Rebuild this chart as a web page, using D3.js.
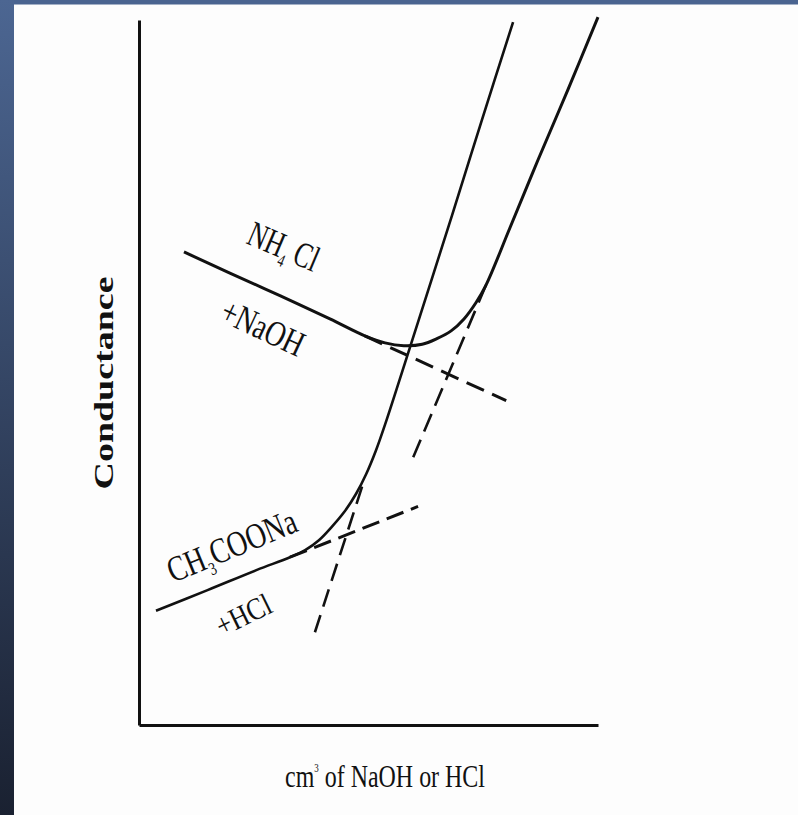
<!DOCTYPE html>
<html>
<head>
<meta charset="utf-8">
<script src="https://cdn.jsdelivr.net/npm/d3@7"></script>
<style>
    body { margin: 0; background: #fdfdfd; }
    svg { display: block; }
    .lbl { font-family: "Liberation Serif", "DejaVu Serif", serif; fill: #111; }
</style>
</head>
<body>
<svg id="chart" width="798" height="815"></svg>
<script>
// volume added (arbitrary units 0..10) vs conductance (arbitrary units 0..10)
const nh4cl_vol = [0.98, 1.98, 3.07, 4.16, 4.92, 5.36, 5.77, 6.17, 6.49, 6.80, 7.08, 7.34, 7.56, 8.08, 8.69, 9.35, 10.0];
const nh4cl_cond = [6.71, 6.41, 6.09, 5.76, 5.52, 5.42, 5.38, 5.40, 5.48, 5.59, 5.76, 5.99, 6.24, 7.05, 8.01, 9.02, 10.04];

const acetate_vol = [0.37, 1.48, 2.57, 3.29, 3.62, 3.92, 4.20, 4.47, 4.73, 4.95, 5.16, 5.36, 5.90, 6.82, 7.47, 8.15];
const acetate_cond = [1.62, 1.91, 2.20, 2.38, 2.48, 2.62, 2.81, 3.02, 3.28, 3.56, 3.89, 4.26, 5.35, 7.23, 8.58, 9.97];

// extrapolated straight branches (dashed), [start, end]
const nh4cl_flat_vol = [4.92, 8.00];
const nh4cl_flat_cond = [5.52, 4.60];
const nh4cl_steep_vol = [7.56, 5.97];
const nh4cl_steep_cond = [6.24, 3.79];
const acetate_flat_vol = [3.29, 6.08];
const acetate_flat_cond = [2.38, 3.10];
const acetate_steep_vol = [4.86, 3.79];
const acetate_steep_cond = [3.38, 1.23];

const x_label = 'cm';
const y_label = 'Conductance';

let svg = d3.select('#chart');

// slide background
let grad = svg.append('defs').append('linearGradient')
    .attr('id', 'side-grad').attr('x1', 0).attr('y1', 0).attr('x2', 0).attr('y2', 1);
grad.append('stop').attr('offset', '0%').attr('stop-color', '#4c6692');
grad.append('stop').attr('offset', '100%').attr('stop-color', '#1a2131');
svg.append('rect').attr('x', 0).attr('y', 0).attr('width', 798).attr('height', 815).attr('fill', '#fdfdfd');
svg.append('rect').attr('x', 0).attr('y', 0).attr('width', 798).attr('height', 4.5).attr('fill', '#4a6490');
svg.append('rect').attr('x', 0).attr('y', 0).attr('width', 14).attr('height', 815).attr('fill', 'url(#side-grad)');

let x = d3.scaleLinear().domain([0, 10]).range([139, 598]);
let y = d3.scaleLinear().domain([0, 10]).range([725, 20]);

// axes, no ticks
svg.append('g').attr('transform', 'translate(139,0)')
    .call(d3.axisLeft(y).ticks(0).tickSizeOuter(0))
    .select('.domain').attr('stroke', '#111').attr('stroke-width', 3);
svg.append('g').attr('transform', 'translate(0,725)')
    .call(d3.axisBottom(x).ticks(0).tickSizeOuter(0))
    .select('.domain').attr('stroke', '#111').attr('stroke-width', 3);

function zip(xs, ys) {
    return xs.map((v, i) => [v, ys[i]]);
}

let line = d3.line().x(d => x(d[0])).y(d => y(d[1])).curve(d3.curveCatmullRom.alpha(0.5));

function draw_curve(points, width, dash) {
    svg.append('path')
        .datum(points)
        .attr('d', line)
        .attr('fill', 'none')
        .attr('stroke', '#111')
        .attr('stroke-width', width)
        .attr('stroke-linecap', 'butt')
        .attr('stroke-dasharray', dash);
}

draw_curve(zip(nh4cl_vol, nh4cl_cond), 3, null);
draw_curve(zip(acetate_vol, acetate_cond), 2.6, null);
draw_curve(zip(nh4cl_flat_vol, nh4cl_flat_cond), 3, '19,9');
draw_curve(zip(nh4cl_steep_vol, nh4cl_steep_cond), 2.6, '19,9');
draw_curve(zip(acetate_flat_vol, acetate_flat_cond), 3, '18,8');
draw_curve(zip(acetate_steep_vol, acetate_steep_cond), 2.6, '18,9');

function add_label(px, py, angle, size, length, parts, anchor = 'start', weight = 'normal') {
    let t = svg.append('text')
        .attr('class', 'lbl')
        .attr('transform', 'translate(' + px + ',' + py + ') rotate(' + angle + ')')
        .attr('font-size', size)
        .attr('font-weight', weight)
        .attr('text-anchor', anchor)
        .attr('textLength', length)
        .attr('lengthAdjust', 'spacingAndGlyphs');
    parts.forEach(p => {
        t.append('tspan')
            .attr('dy', p.dy || 0)
            .attr('font-size', p.size || size)
            .text(p.text);
    });
}

add_label(245, 243, 23, 36, 74, [{text: 'NH'}, {text: '4', dy: 8, size: 18}, {text: ' Cl', dy: -8}]);
add_label(218, 320, 25, 36, 88, [{text: '+NaOH'}]);
add_label(173, 583, -22.5, 36, 137, [{text: 'CH'}, {text: '3', dy: 8, size: 18}, {text: 'COONa', dy: -8}]);
add_label(222, 637, -26, 31, 58, [{text: '+HCl'}]);

add_label(113, 383, -90, 28, 213, [{text: y_label}], 'middle', 'bold');
add_label(285, 787, 0, 32, 200, [{text: x_label}, {text: '3', dy: -15, size: 12}, {text: ' of NaOH or HCl', dy: 15}]);
</script>
</body>
</html>
